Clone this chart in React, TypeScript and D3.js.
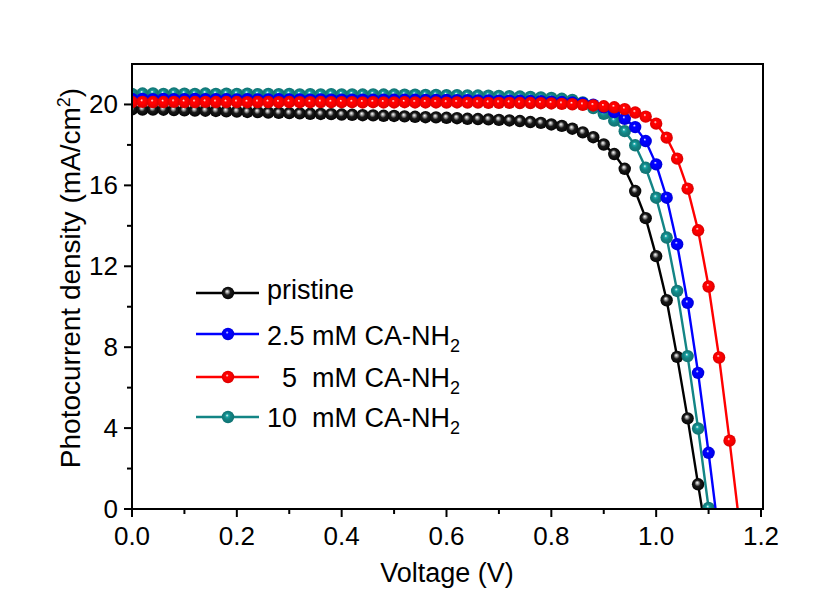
import React from "react";
import * as d3 from "d3";

const voltage = [
  0.0, 0.02, 0.04, 0.06, 0.08, 0.1, 0.12, 0.14, 0.16, 0.18,
  0.2, 0.22, 0.24, 0.26, 0.28, 0.3, 0.32, 0.34, 0.36, 0.38,
  0.4, 0.42, 0.44, 0.46, 0.48, 0.5, 0.52, 0.54, 0.56, 0.58,
  0.6, 0.62, 0.64, 0.66, 0.68, 0.7, 0.72, 0.74, 0.76, 0.78,
  0.8, 0.82, 0.84, 0.86, 0.88, 0.9, 0.92, 0.94, 0.96, 0.98,
  1.0, 1.02, 1.04, 1.06, 1.08, 1.1, 1.12, 1.14, 1.16,
];

const pristine = [
  19.76, 19.75, 19.75, 19.74, 19.72, 19.71, 19.7, 19.69, 19.68, 19.66,
  19.65, 19.63, 19.62, 19.6, 19.59, 19.57, 19.56, 19.54, 19.53, 19.52,
  19.5, 19.49, 19.47, 19.46, 19.44, 19.43, 19.41, 19.39, 19.37, 19.36,
  19.34, 19.32, 19.29, 19.28, 19.26, 19.24, 19.21, 19.18, 19.13, 19.09,
  19.01, 18.94, 18.8, 18.62, 18.38, 18.02, 17.55, 16.82, 15.72, 14.38,
  12.5, 10.32, 7.52, 4.48, 1.22, -2.0,
];

const mM2_5 = [
  20.27, 20.27, 20.26, 20.27, 20.26, 20.26, 20.27, 20.26, 20.26, 20.26,
  20.25, 20.26, 20.25, 20.25, 20.26, 20.25, 20.25, 20.24, 20.25, 20.24,
  20.24, 20.24, 20.24, 20.23, 20.24, 20.23, 20.23, 20.23, 20.22, 20.22,
  20.22, 20.21, 20.21, 20.2, 20.2, 20.19, 20.19, 20.18, 20.17, 20.16,
  20.14, 20.12, 20.1, 20.06, 19.99, 19.86, 19.62, 19.29, 18.88, 18.19,
  17.04, 15.39, 13.09, 10.19, 6.73, 2.78, -1.4,
];

const mM5 = [
  20.12, 20.13, 20.12, 20.12, 20.13, 20.12, 20.12, 20.13, 20.12, 20.12,
  20.12, 20.11, 20.12, 20.12, 20.11, 20.12, 20.11, 20.11, 20.12, 20.11,
  20.11, 20.11, 20.1, 20.11, 20.1, 20.1, 20.11, 20.1, 20.1, 20.1,
  20.09, 20.1, 20.09, 20.09, 20.08, 20.08, 20.08, 20.07, 20.07, 20.06,
  20.05, 20.03, 20.01, 19.98, 19.95, 19.91, 19.86, 19.77, 19.6, 19.4,
  19.05, 18.36, 17.32, 15.84, 13.78, 11.0, 7.49, 3.38, -1.0,
];

const mM10 = [
  20.52, 20.54, 20.55, 20.52, 20.54, 20.53, 20.52, 20.54, 20.52, 20.53,
  20.52, 20.53, 20.51, 20.52, 20.51, 20.52, 20.5, 20.51, 20.5, 20.51,
  20.5, 20.5, 20.49, 20.5, 20.49, 20.49, 20.48, 20.48, 20.47, 20.47,
  20.46, 20.46, 20.45, 20.44, 20.43, 20.42, 20.41, 20.39, 20.37, 20.35,
  20.32, 20.28, 20.22, 20.1, 19.82, 19.54, 19.2, 18.68, 17.98, 16.87,
  15.39, 13.42, 10.78, 7.56, 3.98, 0.05,
];

const seriesNames = ["pristine", "2.5 mM CA-NH", "  5  mM CA-NH", "10  mM CA-NH"];
const seriesSub = ["", "2", "2", "2"];
const seriesColors = ["#000000", "#0000ff", "#ff0000", "#138585"];
const seriesValues = [pristine, mM2_5, mM5, mM10];
const drawOrder = [0, 3, 1, 2];

const xTicks = [0, 0.2, 0.4, 0.6, 0.8, 1.0, 1.2];
const xMinor = [0.1, 0.3, 0.5, 0.7, 0.9, 1.1];
const yTicks = [0, 4, 8, 12, 16, 20];
const yMinor = [2, 6, 10, 14, 18];

const W = 829;
const H = 590;
const L = 132;
const R = 763;
const T = 64;
const B = 509;
const FONT = "Arial, 'Liberation Sans', sans-serif";
const legendLineY = [293, 334, 377, 417];
const legendTextY = [299, 345, 387, 427];

function shade(c: string, k: number) {
  const col = d3.color(c)!;
  return k > 0 ? col.brighter(k).formatHex() : col.darker(-k).formatHex();
}

export default function App() {
  const x = d3.scaleLinear().domain([0, 1.2]).range([L, R - 2]);
  const y = d3.scaleLinear().domain([0, 22]).range([B, T]);
  const line = d3
    .line<[number, number]>()
    .x((d) => x(d[0]))
    .y((d) => y(d[1]));

  return (
    <svg
      width={W}
      height={H}
      style={{ position: "absolute", left: 0, top: 0, background: "#fff" }}
      fontFamily={FONT}
    >
      <defs>
        <clipPath id="plotclip">
          <rect x={L} y={T} width={R - L} height={B - T} />
        </clipPath>
        {seriesColors.map((c, i) => (
          <radialGradient key={i} id={`ball${i}`} cx="50%" cy="50%" r="55%" fx="42%" fy="36%">
            <stop offset="0%" stopColor="#ffffff" />
            <stop offset="22%" stopColor={i === 0 ? "#9a9a9a" : shade(c, 0.6)} />
            <stop offset="45%" stopColor={i === 0 ? "#1a1a1a" : c} />
            <stop offset="100%" stopColor={i === 0 ? "#000000" : shade(c, -0.5)} />
          </radialGradient>
        ))}
      </defs>
      <rect x={0} y={0} width={W} height={H} fill="#fff" />

      <g clipPath="url(#plotclip)">
        {drawOrder.map((si) => {
          const vals = seriesValues[si];
          const pts: [number, number][] = vals.map((v, i) => [voltage[i], v]);
          return (
            <g key={si}>
              <path d={line(pts) || ""} fill="none" stroke={seriesColors[si]} strokeWidth={2.4} />
              {pts
                .filter((p) => p[1] >= 0)
                .map((p, i) => (
                  <circle key={i} cx={x(p[0])} cy={y(p[1])} r={6.2} fill={`url(#ball${si})`} />
                ))}
            </g>
          );
        })}
      </g>

      {/* frame */}
      <rect x={L} y={T} width={R - L} height={B - T} fill="none" stroke="#000" strokeWidth={2} />

      {/* x ticks */}
      {xTicks.map((t) => (
        <g key={`xt${t}`}>
          <line x1={x(t)} x2={x(t)} y1={B} y2={B + 8} stroke="#000" strokeWidth={2} />
          <text x={x(t)} y={545} textAnchor="middle" fontSize={26}>
            {t.toFixed(1)}
          </text>
        </g>
      ))}
      {xMinor.map((t) => (
        <line key={`xm${t}`} x1={x(t)} x2={x(t)} y1={B} y2={B + 5} stroke="#000" strokeWidth={2} />
      ))}

      {/* y ticks */}
      {yTicks.map((t) => (
        <g key={`yt${t}`}>
          <line x1={L - 8} x2={L} y1={y(t)} y2={y(t)} stroke="#000" strokeWidth={2} />
          <text x={118} y={y(t) + 9} textAnchor="end" fontSize={26}>
            {t}
          </text>
        </g>
      ))}
      {yMinor.map((t) => (
        <line key={`ym${t}`} x1={L - 5} x2={L} y1={y(t)} y2={y(t)} stroke="#000" strokeWidth={2} />
      ))}

      {/* axis titles */}
      <text x={447} y={582} textAnchor="middle" fontSize={27}>
        Voltage (V)
      </text>
      <text transform="translate(80,278) rotate(-90)" textAnchor="middle" fontSize={28}>
        Photocurrent density (mA/cm
        <tspan dy={-10} fontSize={18}>2</tspan>
        <tspan dy={10}>)</tspan>
      </text>

      {/* legend */}
      {seriesNames.map((name, i) => (
        <g key={`lg${i}`}>
          <line x1={196} x2={259} y1={legendLineY[i]} y2={legendLineY[i]} stroke={seriesColors[i]} strokeWidth={2.4} />
          <circle cx={228} cy={legendLineY[i]} r={6.2} fill={`url(#ball${i})`} />
          <text x={267} y={legendTextY[i]} fontSize={27} style={{ whiteSpace: "pre" }}>
            {name}
            {seriesSub[i] && (
              <tspan dy={7} fontSize={18}>
                {seriesSub[i]}
              </tspan>
            )}
          </text>
        </g>
      ))}
    </svg>
  );
}
